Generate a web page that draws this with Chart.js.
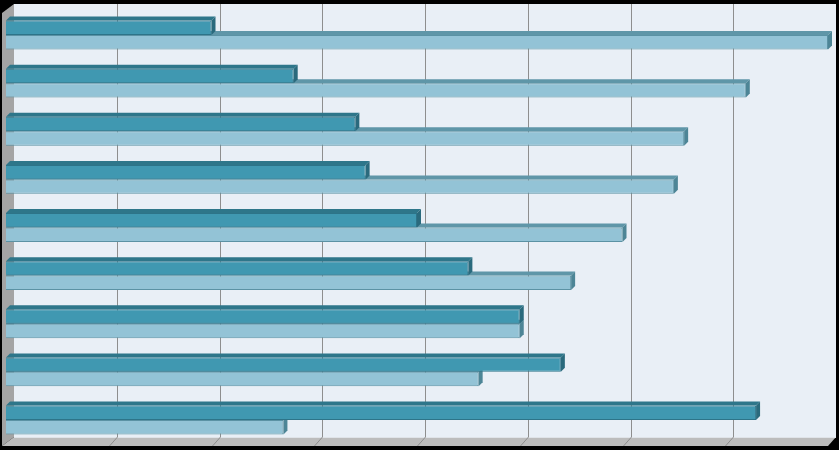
<!doctype html>
<html>
<head>
    <title></title>
    <script src="https://cdn.jsdelivr.net/npm/chart.js@4.4.0/dist/chart.umd.min.js"></script>
    <style>
        html, body { margin: 0; padding: 0; background: #000; }
        #container { width: 839px; height: 450px; }
    </style>
</head>
<body>
    <div id="container">
        <canvas id="canvas"></canvas>
    </div>
    <script>
        var CATEGORIES = ['1', '2', '3', '4', '5', '6', '7', '8', '9'];
        var SERIES_DARK = [20, 28, 34, 35, 40, 45, 50, 54, 73];
        var SERIES_LIGHT = [80, 72, 66, 65, 60, 55, 50, 46, 27];
        var X_MAX = 80;
        var X_STEP = 10;

        var DX = 8;        // wall depth, horizontal
        var BAR_D = 4;     // bar depth

        // draws the walls, floor and gridlines behind the bars
        var walls = {
            id: 'walls',
            beforeDatasetsDraw: function (chart) {
                var a = chart.chartArea, ctx = chart.ctx, xs = chart.scales.x;
                var backTop = a.top - 7, backBottom = a.bottom - 7, front = a.bottom + 2;
                ctx.save();
                // back wall
                ctx.fillStyle = '#e9eff6';
                ctx.fillRect(a.left + DX, backTop, a.right - a.left, backBottom - backTop);
                // left wall
                ctx.fillStyle = '#a4a4a4';
                ctx.beginPath();
                ctx.moveTo(a.left - 4, backTop + 9);
                ctx.lineTo(a.left + DX, backTop);
                ctx.lineTo(a.left + DX, backBottom);
                ctx.lineTo(a.left - 4, front);
                ctx.closePath();
                ctx.fill();
                // floor
                ctx.fillStyle = '#bcbcbc';
                ctx.beginPath();
                ctx.moveTo(a.left + DX, backBottom);
                ctx.lineTo(a.right + DX, backBottom);
                ctx.lineTo(a.right, front);
                ctx.lineTo(a.left - 4, front);
                ctx.closePath();
                ctx.fill();
                ctx.strokeStyle = '#dfe3e8';
                ctx.beginPath();
                ctx.moveTo(a.left + DX, backBottom + 0.5);
                ctx.lineTo(a.right + DX, backBottom + 0.5);
                ctx.stroke();
                // gridlines
                ctx.strokeStyle = '#8e8e8e';
                ctx.lineWidth = 1;
                xs.ticks.forEach(function (t) {
                    if (t.value <= 0 || t.value >= X_MAX) return;
                    var x = Math.round(xs.getPixelForValue(t.value) + DX) + 0.5;
                    ctx.beginPath();
                    ctx.moveTo(x, backTop);
                    ctx.lineTo(x, backBottom);
                    ctx.lineTo(x - DX, front);
                    ctx.stroke();
                });
                ctx.restore();
            },
            // top and side faces of each bar
            afterDatasetDraw: function (chart, args) {
                var ctx = chart.ctx;
                var ds = chart.data.datasets[args.index];
                ctx.save();
                args.meta.data.forEach(function (bar) {
                    var p = bar.getProps(['x', 'y', 'base', 'height'], true);
                    var t = p.y - p.height / 2, b = p.y + p.height / 2;
                    ctx.fillStyle = ds.topColor;
                    ctx.beginPath();
                    ctx.moveTo(p.base, t);
                    ctx.lineTo(p.base + BAR_D, t - BAR_D);
                    ctx.lineTo(p.x + BAR_D, t - BAR_D);
                    ctx.lineTo(p.x, t);
                    ctx.closePath();
                    ctx.fill();
                    ctx.fillStyle = ds.sideColor;
                    ctx.beginPath();
                    ctx.moveTo(p.x, t);
                    ctx.lineTo(p.x + BAR_D, t - BAR_D);
                    ctx.lineTo(p.x + BAR_D, b - BAR_D);
                    ctx.lineTo(p.x, b);
                    ctx.closePath();
                    ctx.fill();
                });
                ctx.restore();
            }
        };

        var ctx = document.getElementById('canvas').getContext('2d');
        window.myBar = new Chart(ctx, {
            type: 'bar',
            data: {
                labels: CATEGORIES,
                datasets: [{
                    label: 'Series 1',
                    data: SERIES_DARK,
                    backgroundColor: '#4098b1',
                    borderColor: '#2d7489',
                    borderWidth: 1,
                    borderSkipped: 'start',
                    topColor: '#2e768a',
                    sideColor: '#2a6a7d'
                }, {
                    label: 'Series 2',
                    data: SERIES_LIGHT,
                    backgroundColor: '#93c3d6',
                    borderColor: '#5b92a4',
                    borderWidth: 1,
                    borderSkipped: 'start',
                    topColor: '#5f96a8',
                    sideColor: '#4d8596'
                }]
            },
            options: {
                indexAxis: 'y',
                responsive: true,
                maintainAspectRatio: false,
                animation: false,
                categoryPercentage: 0.6,
                barPercentage: 1,
                layout: { padding: { left: 6, right: 11, top: 11, bottom: 6 } },
                plugins: {
                    legend: { display: false },
                    title: { display: false },
                    tooltip: { enabled: false }
                },
                scales: {
                    x: {
                        display: false,
                        min: 0,
                        max: X_MAX,
                        ticks: { stepSize: X_STEP }
                    },
                    y: { display: false }
                }
            },
            plugins: [walls]
        });
    </script>
</body>
</html>
